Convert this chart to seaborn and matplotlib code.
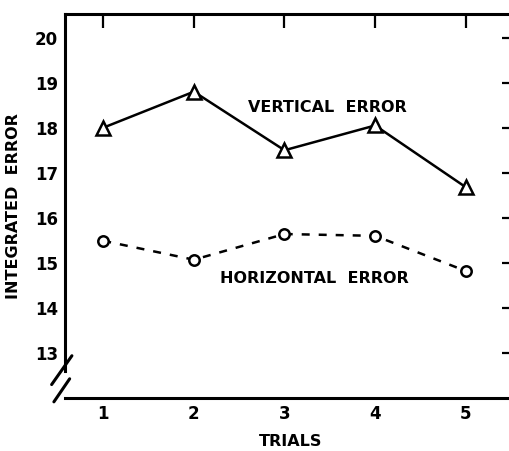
import matplotlib
matplotlib.use("Agg")
import matplotlib.pyplot as plt
import seaborn as sns
import pandas as pd

trials = [1, 2, 3, 4, 5]
vertical_error = [18.0, 18.8, 17.5, 18.05, 16.68]
horizontal_error = [15.49, 15.07, 15.64, 15.6, 14.82]
y_ticks = [13, 14, 15, 16, 17, 18, 19, 20]

sns.set_style("white")
plt.rcParams['font.family'] = ['DejaVu Sans']
plt.rcParams['text.color'] = 'black'
plt.rcParams['axes.labelcolor'] = 'black'

df_v = pd.DataFrame({"trial": trials, "error": vertical_error})
df_h = pd.DataFrame({"trial": trials, "error": horizontal_error})

fig = plt.figure(figsize=(5.09, 4.51), dpi=100)
ax = fig.add_axes([0.128, 0.1175, 0.885, 0.852])

sns.lineplot(data=df_v, x="trial", y="error", ax=ax, color="black",
             marker="^", markersize=10, markerfacecolor="white",
             markeredgecolor="black", markeredgewidth=1.8, linewidth=1.8)
sns.lineplot(data=df_h, x="trial", y="error", ax=ax, color="black",
             marker="o", markersize=7.5, markerfacecolor="white",
             markeredgecolor="black", markeredgewidth=1.8, linewidth=1.8)
ax.lines[-1].set_linestyle((0, (3.2, 3.6)))

ax.set_xlim(0.58, 5.55)
ax.set_ylim(12.0, 20.53)
ax.set_xticks(trials)
ax.set_xticklabels([str(t) for t in trials])
ax.set_yticks(y_ticks)
ax.set_yticklabels([str(t) for t in y_ticks])

for s in ax.spines.values():
    s.set_linewidth(2.2)
    s.set_color("black")
    s.set_visible(True)
ax.spines['left'].set_bounds(12.6, 20.53)

ax.tick_params(axis='both', which='both', direction='in', length=10, width=1.6,
               top=True, right=True, labelsize=12, pad=5, colors='black')
for lab in ax.get_xticklabels() + ax.get_yticklabels():
    lab.set_fontweight('bold')

ax.set_xlabel("TRIALS", fontsize=11.5, fontweight='bold', labelpad=8, color='black')
ax.set_ylabel("INTEGRATED  ERROR", fontsize=11.5, fontweight='bold', labelpad=10, color='black')

ax.text(3.47, 18.45, "VERTICAL  ERROR", fontsize=11.5, fontweight='bold',
        ha='center', va='center', color='black')
ax.text(3.33, 14.65, "HORIZONTAL  ERROR", fontsize=11.5, fontweight='bold',
        ha='center', va='center', color='black')

# axis break slashes
tr = ax.transAxes
ax.plot([-0.03, 0.015], [0.035, 0.11], transform=tr, color='black', lw=2.2, clip_on=False)
ax.plot([-0.025, 0.01], [-0.01, 0.05], transform=tr, color='black', lw=2.2, clip_on=False)

ax.grid(False)
fig.savefig("out.png", dpi=100)
